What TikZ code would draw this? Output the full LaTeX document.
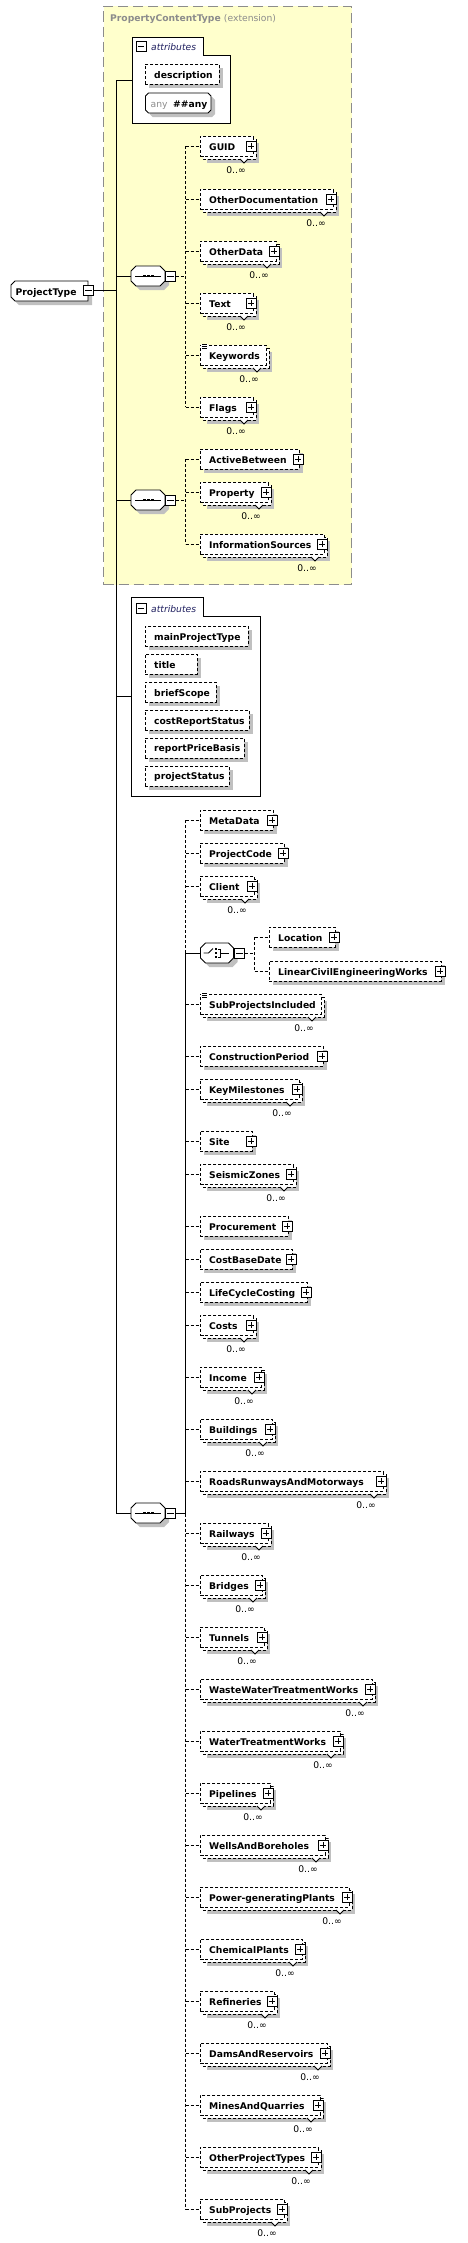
\documentclass[tikz,border=0pt]{standalone}
\usepackage{fontspec}
\setmainfont{DejaVu Sans}
\definecolor{shd}{HTML}{C0C0C0}
\definecolor{ylw}{HTML}{FFFFCC}
\definecolor{ttl}{HTML}{8C8C8C}
\definecolor{attc}{HTML}{202060}
\tikzset{
 ln/.style={line width=0.9pt},
 dsh/.style={line width=0.9pt, dash pattern=on 3pt off 2pt},
 ebox/.style={draw, dsh, fill=white, inner sep=0pt, anchor=north west, minimum height=20pt},
 etxt/.style={font=\fontsize{9.2}{11}\selectfont\bfseries, inner sep=0pt, anchor=base west},
 occ/.style={font=\fontsize{9.2}{11}\selectfont, inner sep=0pt, anchor=base},
 icon/.style={draw, fill=white, line width=0.8pt, minimum width=10pt, minimum height=10pt, inner sep=0pt},
 minbox/.style={icon, path picture={\draw[line width=0.8pt] ([xshift=1.8pt]path picture bounding box.west) -- ([xshift=-1.8pt]path picture bounding box.east);}},
 plusbox/.style={icon, path picture={\draw[line width=0.8pt] ([xshift=1.8pt]path picture bounding box.west) -- ([xshift=-1.8pt]path picture bounding box.east) ([yshift=-1.8pt]path picture bounding box.north) -- ([yshift=1.8pt]path picture bounding box.south);}},
}
% single element: name, text, L, c, R
\newcommand{\elS}[5]{%
 \fill[shd] ({#3+4},{#4-6}) rectangle ({#5},{#4+14});
 \node[ebox, minimum width={(#5)-4-(#3)}] (#1) at ({#3},{#4-10}) {};
 \node[etxt] (#1-t) at ({#3+9},{#4+4}) {#2};
 \node[plusbox] (#1-p) at ({#5-5},{#4}) {};
}
% multi element base
\newcommand{\elMbase}[5]{%
 \fill[shd] ({#3+7},{#4-3}) rectangle ({#5+3},{#4+17});
 \draw[dsh, fill=white] ({#3+3},{#4-7}) rectangle ({#5},{#4+13});
 \draw[line width=0.8pt, fill=white] ({#5-16},{#4+13}) -- ({#5-12},{#4+17}) -- ({#5-8},{#4+13});
 \node[ebox, minimum width={(#5)-3-(#3)}] (#1) at ({#3},{#4-10}) {};
 \node[etxt] (#1-t) at ({#3+9},{#4+4}) {#2};
 \node[occ] (#1-o) at ({#5-20},{#4+27.5}) {0..∞};
}
\newcommand{\elM}[5]{%
 \elMbase{#1}{#2}{#3}{#4}{#5}
 \node[plusbox] (#1-p) at ({#5-5},{#4}) {};
}
\newcommand{\elMs}[5]{%
 \elMbase{#1}{#2}{#3}{#4}{#5}
 \fill[white] ({#3+1},{#4-11.5}) rectangle ({#3+8},{#4-6});
 \draw[line width=0.6pt] ({#3+2},{#4-10.5}) -- ({#3+7},{#4-10.5}) ({#3+2},{#4-8.8}) -- ({#3+7},{#4-8.8}) ({#3+2},{#4-7.1}) -- ({#3+7},{#4-7.1});
}
% attribute: name, text, top, right
\newcommand{\attrb}[4]{%
 \fill[shd] (149,{#3+4}) rectangle ({#4+4},{#3+24});
 \node[ebox, minimum width={(#4)-145}] (#1) at (145,{#3}) {};
 \node[etxt] (#1-t) at (154,{#3+14}) {#2};
}
% octagon: name, x0, c, w
\newcommand{\octo}[4]{%
 \fill[shd] ({#2+9},{#3-6}) -- ({#2+#4-1},{#3-6}) -- ({#2+#4+4},{#3-1}) -- ({#2+#4+4},{#3+9}) -- ({#2+#4-1},{#3+14}) -- ({#2+9},{#3+14}) -- ({#2+4},{#3+9}) -- ({#2+4},{#3-1}) -- cycle;
 \draw[ln, fill=white] ({#2+5},{#3-10}) -- ({#2+#4-5},{#3-10}) -- ({#2+#4},{#3-5}) -- ({#2+#4},{#3+5}) -- ({#2+#4-5},{#3+10}) -- ({#2+5},{#3+10}) -- ({#2},{#3+5}) -- ({#2},{#3-5}) -- cycle;
 \node[inner sep=0pt, minimum width={#4}, minimum height=20pt] (#1) at ({#2+#4/2},{#3}) {};
}
\newcommand{\seqin}[2]{%
 \draw[line width=0.8pt] ({#1+4},{#2}) -- ({#1+30},{#2});
 \foreach \d in {13.5,17.5,21.5} \fill ({#1+\d-1.3},{#2-1.3}) rectangle ({#1+\d+1.3},{#2+1.3});
}
\newcommand{\chin}[2]{%
 \draw[line width=0.8pt] ({#1+3},{#2}) -- ({#1+8},{#2}) -- ({#1+12.5},{#2-4.5});
 \foreach \d in {-4,0,4} \fill ({#1+14},{#2+\d-1.3}) rectangle ({#1+16.6},{#2+\d+1.3});
 \draw[line width=0.8pt] ({#1+17.5},{#2-4}) -- ({#1+20},{#2-4}) -- ({#1+20},{#2+4}) -- ({#1+17.5},{#2+4}) ({#1+20},{#2}) -- ({#1+28},{#2});
}
\begin{document}
\begin{tikzpicture}[x=1pt,y=-1pt]
\useasboundingbox (0,0) rectangle (468,2243);
\fill[white] (0,0) rectangle (468,2243);
% extension box
\node[draw=ttl, line width=1pt, dash pattern=on 10pt off 5pt, fill=ylw, anchor=north west, inner sep=0pt, minimum width=248pt, minimum height=578.5pt] (ext) at (103,5.5) {};
\node[anchor=base west, inner sep=0pt, text=ttl, font=\fontsize{9.2}{11}\selectfont] (ext-t) at (110,21.5) {\bfseries PropertyContentType \mdseries(extension)};
\coordinate (spx) at (116,0);
\coordinate (sp1x) at (185.5,0);
\coordinate (spcx) at (254.5,0);
% attributes frame 1
\draw[ln, fill=white] (132,37) -- (203,37) -- (203,55) -- (230,55) -- (230,123) -- (132,123) -- cycle;
\node[inner sep=0pt, minimum width=98pt, minimum height=86pt] (att1) at (181,80) {};
\node[minbox] (att1-m) at (141,46.5) {};
\node[anchor=base west, inner sep=0pt, text=attc, font=\fontsize{9.2}{11}\selectfont\itshape] (att1-t) at (151,50.5) {attributes};
\attrb{description}{description}{64}{219}
\fill[shd] (152.5,97) -- (212,97) -- (215,100) -- (215,114) -- (212,117) -- (152.5,117) -- (149.5,114) -- (149.5,100) -- cycle;
\draw[ln, fill=white] (148.5,93) -- (208,93) -- (211,96) -- (211,110) -- (208,113) -- (148.5,113) -- (145.5,110) -- (145.5,96) -- cycle;
\node[inner sep=0pt, minimum width=65.5pt, minimum height=20pt] (anyb) at (178.25,103) {};
\node[anchor=base west, inner sep=0pt, text=ttl, font=\fontsize{9.2}{11}\selectfont] (any-a) at (150.5,107) {any};
\node[etxt] (any-t) at (173,107) {\#\#any};
% ProjectType
\fill[shd] (19,285) -- (92,285) -- (92,305) -- (19,305) -- (15,301) -- (15,289) -- cycle;
\draw[ln, fill=white] (15,281) -- (88,281) -- (88,301) -- (15,301) -- (11,297) -- (11,285) -- cycle;
\node[inner sep=0pt, minimum width=77pt, minimum height=20pt] (pt) at (49.5,291) {};
\node[etxt] (pt-t) at (15.5,295) {ProjectType};
\node[minbox] (pt-m) at (88.5,290.5) {};
% sequences
\octo{s1}{131}{276}{34}\seqin{131}{276}
\node[minbox] (s1-m) at (170.5,276.5) {};
\octo{s2}{131}{500}{34}\seqin{131}{500}
\node[minbox] (s2-m) at (170.5,500.5) {};
% elements in extension
\elM{guid}{GUID}{200}{146}{256}
\elM{otherdoc}{OtherDocumentation}{200}{199}{336}
\elM{otherdata}{OtherData}{200}{251}{279}
\elM{txt}{Text}{200}{303}{256}
\elMs{keywords}{Keywords}{200}{355}{269}
\elM{flags}{Flags}{200}{407}{256}
\elS{activebetween}{ActiveBetween}{200}{459}{303}
\elM{property}{Property}{200}{492}{271}
\elM{infosources}{InformationSources}{200}{544}{327}
% attributes frame 2
\draw[ln, fill=white] (131,597) -- (203,597) -- (203,616) -- (260,616) -- (260,796) -- (131,796) -- cycle;
\node[inner sep=0pt, minimum width=129pt, minimum height=199pt] (att2) at (195.5,696.5) {};
\node[minbox] (att2-m) at (141,608.3) {};
\node[anchor=base west, inner sep=0pt, text=attc, font=\fontsize{9.2}{11}\selectfont\itshape] (att2-t) at (151,612) {attributes};
\attrb{mainpt}{mainProjectType}{626}{248}
\attrb{title}{title}{654}{197}
\attrb{briefscope}{briefScope}{682}{216}
\attrb{crs}{costReportStatus}{710}{249}
\attrb{rpb}{reportPriceBasis}{737.5}{244}
\attrb{pstatus}{projectStatus}{765.5}{229}
% sequence 3
\octo{s3}{131}{1513}{34}\seqin{131}{1513}
\node[minbox] (s3-m) at (170.5,1513.5) {};
\elS{metadata}{MetaData}{200}{820}{277}
\elS{projectcode}{ProjectCode}{200}{853}{288}
\elM{client}{Client}{200}{886}{257}
\octo{ch}{200.5}{953}{33}\chin{200.5}{953}
\node[minbox] (ch-m) at (239.5,953.5) {};
\elS{location}{Location}{269}{937}{339}
\elS{lcew}{LinearCivilEngineeringWorks}{269}{971}{445}
\elMs{subprojincl}{SubProjectsIncluded}{200}{1004}{324}
\elS{constrperiod}{ConstructionPeriod}{200}{1056}{327}
\elM{keymilestones}{KeyMilestones}{200}{1089}{302}
\elS{site}{Site}{200}{1141}{256}
\elM{seismic}{SeismicZones}{200}{1174}{296}
\elS{procurement}{Procurement}{200}{1226}{292}
\elS{costbasedate}{CostBaseDate}{200}{1259}{296}
\elS{lcc}{LifeCycleCosting}{200}{1292}{311}
\elM{costs}{Costs}{200}{1325}{256}
\elM{income}{Income}{200}{1377}{264}
\elM{buildings}{Buildings}{200}{1429}{275}
\elM{roads}{RoadsRunwaysAndMotorways}{200}{1481}{386}
\elM{railways}{Railways}{200}{1533}{271}
\elM{bridges}{Bridges}{200}{1585}{265}
\elM{tunnels}{Tunnels}{200}{1637}{267}
\elM{wwtw}{WasteWaterTreatmentWorks}{200}{1689}{375}
\elM{wtw}{WaterTreatmentWorks}{200}{1741}{343}
\elM{pipelines}{Pipelines}{200}{1793}{273}
\elM{wells}{WellsAndBoreholes}{200}{1845}{328}
\elM{power}{Power-generatingPlants}{200}{1897}{352}
\elM{chemical}{ChemicalPlants}{200}{1949}{305}
\elM{refineries}{Refineries}{200}{2001}{277}
\elM{dams}{DamsAndReservoirs}{200}{2053}{330}
\elM{mines}{MinesAndQuarries}{200}{2105}{323}
\elM{otherpt}{OtherProjectTypes}{200}{2157}{321}
\elM{subprojects}{SubProjects}{200}{2209}{287}
% connectors: main
\draw[ln] (pt-m.east) -- (pt-m.east -| spx);
\draw[ln] (att1.west -| spx) -- (s3.west -| spx);
\foreach \n in {att1,s1,s2,att2,s3} \draw[ln] (\n.west -| spx) -- (\n.west);
% seq1
\draw[dsh] (s1-m.east) -- (s1-m.east -| sp1x);
\draw[dsh] (guid.west -| sp1x) -- (flags.west -| sp1x);
\foreach \n in {guid,otherdoc,otherdata,txt,keywords,flags} \draw[dsh] (\n.west -| sp1x) -- (\n.west);
% seq2
\draw[dsh] (s2-m.east) -- (s2-m.east -| sp1x);
\draw[dsh] (activebetween.west -| sp1x) -- (infosources.west -| sp1x);
\foreach \n in {activebetween,property,infosources} \draw[dsh] (\n.west -| sp1x) -- (\n.west);
% seq3
\draw[ln] (s3-m.east) -- (s3-m.east -| sp1x);
\draw[dsh] (metadata.west -| sp1x) -- (ch.west -| sp1x);
\draw[ln] (ch.west -| sp1x) -- (s3-m.east -| sp1x);
\draw[dsh] (s3-m.east -| sp1x) -- (subprojects.west -| sp1x);
\draw[ln] (ch.west -| sp1x) -- (ch.west);
\foreach \n in {metadata,projectcode,client,subprojincl,constrperiod,keymilestones,site,seismic,procurement,costbasedate,lcc,costs,income,buildings,roads,railways,bridges,tunnels,wwtw,wtw,pipelines,wells,power,chemical,refineries,dams,mines,otherpt,subprojects} \draw[dsh] (\n.west -| sp1x) -- (\n.west);
% choice
\draw[dsh] (ch-m.east) -- (ch-m.east -| spcx);
\draw[dsh] (location.west -| spcx) -- (lcew.west -| spcx);
\foreach \n in {location,lcew} \draw[dsh] (\n.west -| spcx) -- (\n.west);
\end{tikzpicture}
\end{document}
